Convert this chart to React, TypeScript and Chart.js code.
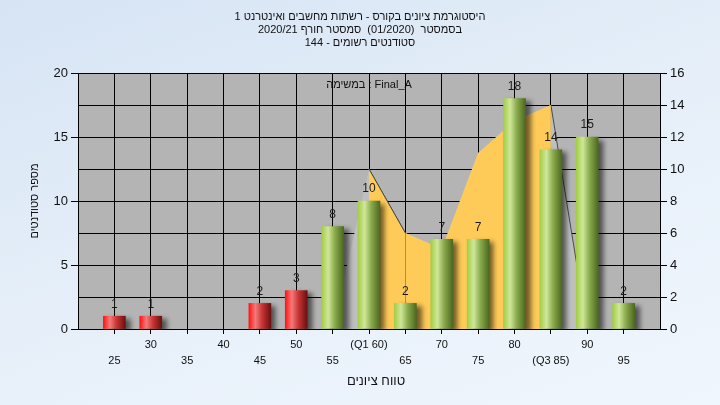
import React, { useEffect, useRef } from 'react';
import { Chart, registerables } from 'chart.js';

Chart.register(...registerables);

// ---- data ----
const grades = [25, 30, 35, 40, 45, 50, 55, 60, 65, 70, 75, 80, 85, 90, 95];
const gradeLabels = ['25', '30', '35', '40', '45', '50', '55', '(Q1 60)', '65', '70', '75', '80', '(Q3 85)', '90', '95'];
const studentCounts = [1, 1, 0, 0, 2, 3, 8, 10, 2, 7, 7, 18, 14, 15, 2];
const areaGrades = [55, 60, 65, 70, 75, 80, 85, 90];
const areaValues = [0, 10, 6, 5, 11, 13, 14, 0];
const passGrade = 55;

const titleLines = [
  'היסטוגרמת ציונים בקורס - רשתות מחשבים ואינטרנט 1',
  'בסמסטר  (01/2020)  סמסטר חורף 2020/21',
  'סטודנטים רשומים - 144',
];
const taskCaption = 'במשימה : Final_A';
const xTitle = 'טווח ציונים';
const yTitle = 'מספר סטודנטים';

const FONT = '"Liberation Sans", Arial, sans-serif';
const BAR_W = 22;

const bgPlugin = {
  id: 'plotBg',
  beforeDraw(chart: any) {
    const { ctx, chartArea: a } = chart;
    ctx.save();
    ctx.fillStyle = '#b4b4b4';
    ctx.fillRect(a.left, a.top, a.right - a.left, a.bottom - a.top);
    ctx.restore();
  },
};

const shadowPlugin = {
  id: 'barShadow',
  beforeDatasetDraw(chart: any, args: any) {
    if (args.index !== 0) return;
    const ctx = chart.ctx;
    ctx.save();
    ctx.shadowColor = 'rgba(0,0,0,0.55)';
    ctx.shadowBlur = 5;
    ctx.shadowOffsetX = 5;
    ctx.shadowOffsetY = 3;
  },
  afterDatasetDraw(chart: any, args: any) {
    if (args.index !== 0) return;
    chart.ctx.restore();
  },
};

const labelPlugin = {
  id: 'barLabels',
  afterDatasetsDraw(chart: any) {
    const ctx = chart.ctx;
    const meta = chart.getDatasetMeta(0);
    ctx.save();
    ctx.font = '12px ' + FONT;
    ctx.fillStyle = '#1a1a1a';
    ctx.textAlign = 'center';
    ctx.textBaseline = 'middle';
    meta.data.forEach((el: any, i: number) => {
      if (studentCounts[i] > 0) ctx.fillText(String(studentCounts[i]), el.x, el.y - 12);
    });
    ctx.restore();
  },
};

const textPlugin = {
  id: 'texts',
  afterDraw(chart: any) {
    const { ctx, chartArea: a } = chart;
    ctx.save();
    ctx.fillStyle = '#111';
    ctx.textAlign = 'center';
    ctx.textBaseline = 'middle';
    ctx.font = '11px ' + FONT;
    titleLines.forEach((t, i) => ctx.fillText(t, 360, 17 + i * 13));
    ctx.fillText(taskCaption, (a.left + a.right) / 2, a.top + 12);
    ctx.font = '13px ' + FONT;
    ctx.fillText(xTitle, (a.left + a.right) / 2 + 7, 381);
    ctx.font = '11px ' + FONT;
    ctx.translate(35, (a.top + a.bottom) / 2);
    ctx.rotate(-Math.PI / 2);
    ctx.fillText(yTitle, 0, 0);
    ctx.restore();
  },
};

const segLine = (c: any) => {
  const dx = c.p1.x - c.p0.x;
  const dy = c.p1.y - c.p0.y;
  return dx > 0 && dy / dx > 1 ? '#4a4a4a' : 'rgba(0,0,0,0)';
};

export default function App() {
  const ref = useRef<HTMLCanvasElement | null>(null);

  useEffect(() => {
    if (!ref.current) return;
    const barData = grades.map((g, i) => ({ x: g, y: studentCounts[i] }));
    const grayArea = areaGrades.map((g, i) => ({ x: g, y: areaValues[i] }));
    const yellowArea = grayArea.filter((p) => p.y > 0);

    const chart = new Chart(ref.current, {
      type: 'bar',
      data: {
        datasets: [
          {
            type: 'bar',
            data: barData,
            xAxisID: 'x',
            yAxisID: 'y',
            barThickness: BAR_W,
            order: 0,
            borderWidth: 0,
            backgroundColor: (c: any) => {
              if (!c.raw || c.raw.y === 0) return 'rgba(0,0,0,0)';
              const fallback = c.raw.x < passGrade ? '#d03030' : '#8ab04a';
              if (c.type !== 'data') return fallback;
              const chart = c.chart;
              const xs = chart.scales && chart.scales.x;
              const cx = xs ? xs.getPixelForValue(c.raw.x) : NaN;
              if (!isFinite(cx)) return fallback;
              const g = chart.ctx.createLinearGradient(cx - BAR_W / 2, 0, cx + BAR_W / 2, 0);
              if (c.raw.x < passGrade) {
                g.addColorStop(0, '#ff1414');
                g.addColorStop(0.3, '#f37a7c');
                g.addColorStop(0.6, '#c93434');
                g.addColorStop(1, '#6a1010');
              } else {
                g.addColorStop(0, '#a3cd45');
                g.addColorStop(0.3, '#cfe79a');
                g.addColorStop(0.6, '#8aab4c');
                g.addColorStop(1, '#4c6820');
              }
              return g;
            },
          } as any,
          {
            type: 'line',
            data: yellowArea,
            xAxisID: 'x',
            yAxisID: 'y2',
            fill: 'origin',
            backgroundColor: '#ffcb58',
            borderColor: 'rgba(0,0,0,0)',
            borderWidth: 1,
            pointRadius: 0,
            tension: 0,
            order: 1,
            segment: { borderColor: segLine },
          } as any,
          {
            type: 'line',
            data: grayArea,
            xAxisID: 'x',
            yAxisID: 'y2',
            fill: 'origin',
            backgroundColor: '#bfbfbf',
            borderColor: 'rgba(0,0,0,0)',
            borderWidth: 1,
            pointRadius: 0,
            tension: 0,
            order: 2,
            segment: { borderColor: segLine },
          } as any,
        ],
      },
      options: {
        responsive: false,
        animation: false,
        devicePixelRatio: 1,
        layout: { padding: { top: 73, left: 0, right: 0, bottom: 0 } },
        plugins: {
          legend: { display: false },
          title: { display: false },
          tooltip: { enabled: false },
        },
        scales: {
          x: {
            type: 'linear',
            position: 'bottom',
            min: 20,
            max: 100,
            offset: false,
            afterBuildTicks: (s: any) => {
              s.ticks = grades.map((v) => ({ value: v }));
            },
            afterFit: (s: any) => {
              s.height = 76;
            },
            grid: { color: '#000', offset: false, tickLength: 5, tickColor: '#000', lineWidth: 1 },
            border: { display: true, color: '#000' },
            ticks: {
              autoSkip: false,
              maxRotation: 0,
              minRotation: 0,
              padding: 3,
              color: '#111',
              font: { family: FONT, size: 11, lineHeight: '16px' } as any,
              callback: (_v: any, i: number) => (i % 2 === 0 ? ['', gradeLabels[i]] : gradeLabels[i]),
            },
          } as any,
          y: {
            type: 'linear',
            position: 'left',
            min: 0,
            max: 20,
            afterFit: (s: any) => {
              s.width = 78;
            },
            grid: {
              color: '#000',
              tickLength: 7,
              tickColor: (c: any) => (c.tick && c.tick.value % 5 === 0 ? '#000' : 'rgba(0,0,0,0)'),
            },
            border: { display: true, color: '#000' },
            ticks: {
              stepSize: 2.5,
              padding: 3,
              color: '#111',
              font: { family: FONT, size: 13 },
              callback: (v: any) => (Number(v) % 5 === 0 ? String(v) : ''),
            },
          } as any,
          y2: {
            type: 'linear',
            position: 'right',
            min: 0,
            max: 16,
            afterFit: (s: any) => {
              s.width = 60;
            },
            grid: { drawOnChartArea: false, tickLength: 7, tickColor: '#000' },
            border: { display: true, color: '#000' },
            ticks: {
              stepSize: 2,
              padding: 3,
              color: '#111',
              font: { family: FONT, size: 13 },
            },
          } as any,
        },
      },
      plugins: [bgPlugin, shadowPlugin, labelPlugin, textPlugin],
    } as any);

    return () => chart.destroy();
  }, []);

  return (
    <div
      style={{
        position: 'fixed',
        left: 0,
        top: 0,
        width: 720,
        height: 405,
        overflow: 'hidden',
        background: 'linear-gradient(160deg, #d6e4f4 0%, #e6eff9 50%, #f0f6fd 100%)',
      }}
    >
      <canvas ref={ref} width={720} height={405} style={{ display: 'block', width: 720, height: 405 }} />
    </div>
  );
}
